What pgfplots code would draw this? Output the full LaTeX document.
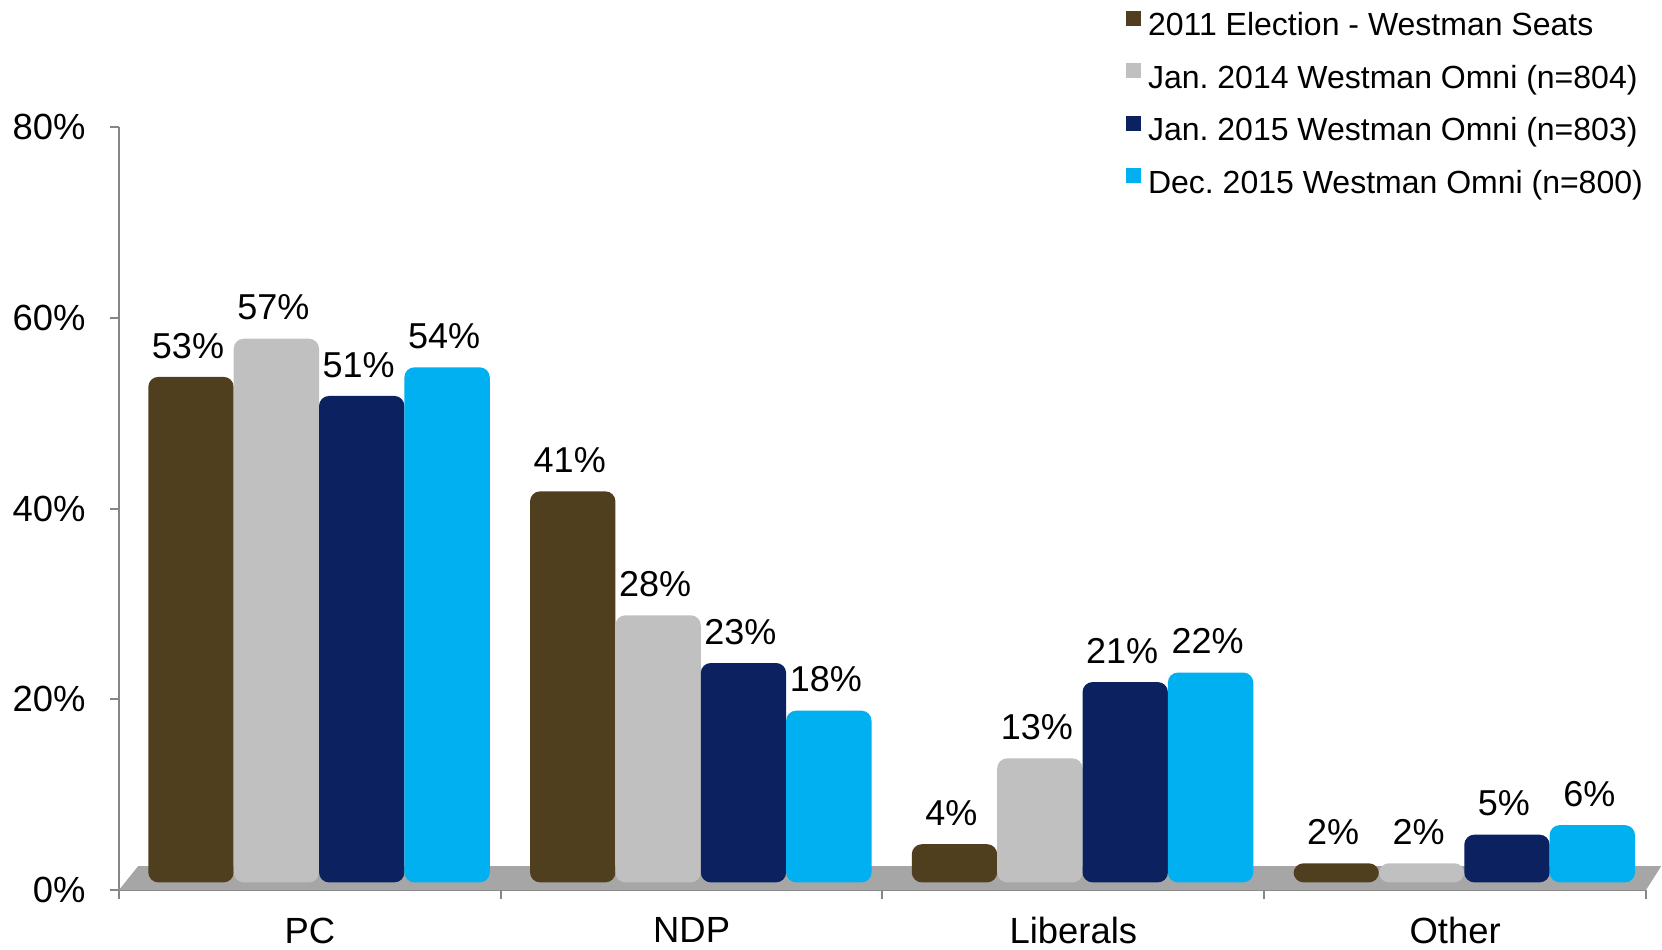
\documentclass[border=0pt]{standalone}
\usepackage{pgfplots}
\pgfplotsset{compat=1.18}
\usepackage{fontspec}
\setmainfont{Liberation Sans}
\frenchspacing
\definecolor{cBrown}{HTML}{4F3F1E}
\definecolor{cGray}{HTML}{C0C0C0}
\definecolor{cNavy}{HTML}{0B2160}
\definecolor{cCyan}{HTML}{00B0F0}
\definecolor{axgray}{HTML}{868686}
\definecolor{floorgray}{HTML}{A6A6A6}
\begin{document}
\begin{tikzpicture}
\useasboundingbox (-59.5pt,-29.5pt) rectangle (771.5pt,445pt);
\begin{axis}[
  at={(0pt,0pt)}, anchor=south west, scale only axis,
  width=763.5pt, height=381.5pt,
  xmin=-0.5, xmax=3.5, ymin=-0.8, ymax=79.2,
  clip=false,
  axis x line*=bottom, axis y line*=left,
  axis line style={axgray, line width=1pt},
  every tick/.style={axgray, line width=1pt},
  tick align=outside,
  major tick length=4.5pt,
  ytick={-0.8,19.2,39.2,59.2,79.2},
  yticklabels={0\%,20\%,40\%,60\%,80\%},
  yticklabel style={anchor=east, inner sep=0pt, xshift=-12pt},
  xtick={-0.5,0.5,1.5,2.5,3.5},
  xticklabels={},
  extra x ticks={0,1,2,3},
  extra x tick labels={PC,NDP,Liberals,Other},
  extra x tick style={major tick length=0pt, xticklabel style={anchor=north, inner sep=0pt, yshift=-13.6pt}},
  tick label style={font=\fontsize{18.2}{21}\selectfont, text=black},
  ybar, bar width=0.2236,
  nodes near coords={\pgfmathprintnumber[assume math mode=true]{\pgfplotspointmeta}\%},
  nodes near coords style={font=\fontsize{18}{21}\selectfont, text=black, anchor=south, inner sep=0pt, yshift=9pt, xshift=-1.5pt},
  legend style={at={(rel axis cs:0.659,1.153)}, anchor=north west, draw=none, fill=none, inner sep=0pt,
    font=\fontsize{16}{19}\selectfont, row sep=10.3pt, column sep=3.7pt,
    nodes={inner sep=0pt, text height=11.5pt, text depth=3.5pt}},
  legend cell align=left,
  legend image code/.code={\fill[#1, sharp corners] (0pt,1pt) rectangle (7.5pt,8.5pt);},
]
\fill[floorgray] (axis cs:-0.5,-0.8) -- (axis cs:3.5,-0.8) -- (axis cs:3.54,1.7) -- (axis cs:-0.45,1.7) -- cycle;
\addplot[fill=cBrown, draw=none, rounded corners=5pt, bar shift=-0.3114] coordinates {(0,53) (1,41) (2,4) (3,2)};
\addplot[fill=cGray, draw=none, rounded corners=5pt, bar shift=-0.0878] coordinates {(0,57) (1,28) (2,13) (3,2)};
\addplot[fill=cNavy, draw=none, rounded corners=5pt, bar shift=0.1358] coordinates {(0,51) (1,23) (2,21) (3,5)};
\addplot[fill=cCyan, draw=none, rounded corners=5pt, bar shift=0.3594] coordinates {(0,54) (1,18) (2,22) (3,6)};
\legend{2011 Election - Westman Seats, Jan. 2014 Westman Omni (n=804), Jan. 2015 Westman Omni (n=803), Dec. 2015 Westman Omni (n=800)}
\end{axis}
\end{tikzpicture}
\end{document}
